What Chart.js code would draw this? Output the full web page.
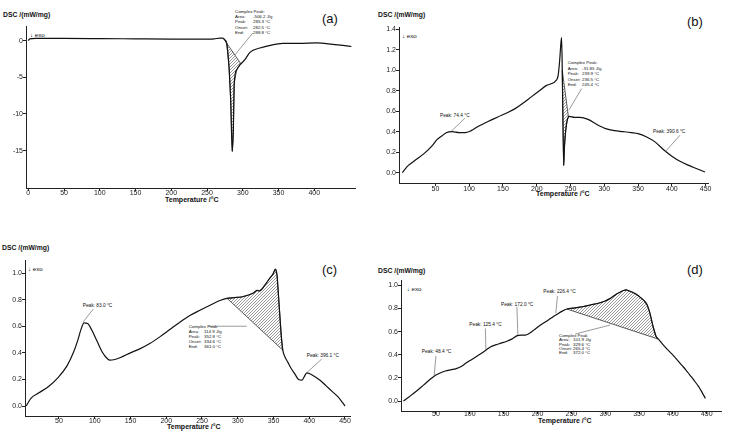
<!DOCTYPE html>
<html><head><meta charset="utf-8">
<script src="https://cdn.jsdelivr.net/npm/chart.js@4.4.1/dist/chart.umd.min.js"></script>
<style>
html,body{margin:0;padding:0;background:#fff}
body{width:730px;height:432px;position:relative;overflow:hidden;font-family:"Liberation Sans",Arial,sans-serif;color:#000}
canvas{position:absolute}
.t{position:absolute;white-space:pre;line-height:1;color:#111}
</style></head><body>
<script>
// ---------- DATA ----------
const xTicksA = [0,50,100,150,200,250,300,350,400];
const yTicksA = [0,-5,-10,-15];
const tempA = [0,2,10,50,100,150,200,240,260,268,272,275,277.6,280.7,283.1,285.3,286.7,288.1,291.4,296,303,310,324,340,356,380,403,426,440,452];
const dscA  = [0,0.25,0.3,0.3,0.28,0.25,0.22,0.2,0.25,0.35,0.35,0.1,-0.4,-3.5,-8.1,-15.1,-12.6,-5.8,-4.0,-3.3,-2.6,-1.6,-1.0,-0.6,-0.38,-0.36,-0.3,-0.5,-0.65,-0.8];

const xTicksB = [50,100,150,200,250,300,350,400,450];
const yTicksB = [0,0.2,0.4,0.6,0.8,1.0,1.2,1.4];
const tempB = [1,10,20,34,45,52,60,66,75,85,94,103,113,128,143,158,168,180,192,204,214,222,227,231.7,234,235.6,236.8,237.8,238.6,239.9,241,243,245.4,248,256,264,276,289,302,315,328,340,350,362,375,390,400,412,425,438,449];
const dscB  = [0,0.07,0.12,0.19,0.26,0.32,0.36,0.39,0.40,0.39,0.39,0.41,0.45,0.50,0.545,0.59,0.625,0.68,0.74,0.80,0.85,0.87,0.89,0.95,1.1,1.25,1.32,1.0,0.6,0.07,0.25,0.42,0.52,0.55,0.54,0.54,0.52,0.47,0.43,0.41,0.40,0.39,0.38,0.35,0.30,0.21,0.16,0.11,0.07,0.035,0.005];

const xTicksC = [50,100,150,200,250,300,350,400,450];
const yTicksC = [0,0.2,0.4,0.6,0.8,1.0];
const tempC = [4,11,22,35,48,61,70,76,81,85,90,96,103,110,116,121,128,136,150,163,177,191,205,219,233,247,262,276,285,295,305,315,322,327,330,334,338,342,346,349,352.8,355,358,361,363,366,370,375,380,385,390,393,396.5,400,408,416,424,432,440,446,450];
const dscC  = [0,0.06,0.10,0.145,0.21,0.30,0.40,0.49,0.58,0.625,0.62,0.57,0.49,0.41,0.365,0.345,0.35,0.365,0.40,0.43,0.47,0.52,0.575,0.63,0.68,0.72,0.76,0.795,0.81,0.815,0.82,0.835,0.85,0.87,0.865,0.88,0.91,0.94,0.97,0.99,1.03,0.98,0.75,0.52,0.42,0.37,0.33,0.28,0.24,0.20,0.195,0.22,0.25,0.245,0.22,0.19,0.15,0.11,0.07,0.03,0];

const xTicksD = [50,100,150,200,250,300,350,400,450];
const yTicksD = [0,0.2,0.4,0.6,0.8,1.0];
const tempD = [2,10,20,32,44,50,57,64,72,80,88,95,103,111,119,125,131,138,146,154,162,170,176,182,188,195,203,212,221,229,236,243.5,255,266,278,290,300,307,313,320,327,331,336,342,350,357,362,366,370,375,378.5,385,392,398,405,413,419,425,431,438,443,448];
const dscD  = [0,0.035,0.08,0.14,0.20,0.225,0.245,0.26,0.27,0.28,0.30,0.33,0.36,0.39,0.42,0.445,0.47,0.485,0.50,0.515,0.535,0.565,0.57,0.57,0.585,0.615,0.65,0.685,0.72,0.75,0.775,0.795,0.805,0.815,0.83,0.845,0.865,0.885,0.91,0.935,0.955,0.96,0.95,0.935,0.905,0.87,0.83,0.76,0.66,0.56,0.535,0.49,0.445,0.41,0.365,0.31,0.27,0.225,0.18,0.124,0.075,0.023];

// hatched peak areas: [startTemp, startValue, endTemp, endValue]
const peakA = [273,0.3,297,-3.1];
const peakB = [237.8,1.0,247,0.54];
const peakC = [285,0.81,363,0.42];
const peakD = [243.5,0.795,378.5,0.535];

// ---------- LAYOUT ----------
const panels = [
 {area:[26,26,355,188], xr:[-3.2,457], yr:[-20.1,2], xt:xTicksA, yt:yTicksA, dec:0, t:tempA, v:dscA, pk:peakA, xlPad:-2,
  leaders:[[314,1.05,289,-1.95]]},
 {area:[399.3,26.7,708,182.7], xr:[-3.85,453.5], yr:[-0.102,1.423], xt:xTicksB, yt:yTicksB, dec:1, t:tempB, v:dscB, pk:peakB, xlPad:-1,
  leaders:[[93.5,0.53,73,0.40],[266.4,0.82,247.6,0.61],[412,0.365,389.8,0.20]]},
 {area:[25,260,350,416], xr:[2.45,457], yr:[-0.075,1.098], xt:xTicksC, yt:yTicksC, dec:1, t:tempC, v:dscC, pk:peakC, xlPad:-2,
  leaders:[[98,0.73,84,0.634],[258.8,0.60,312.5,0.60],[417.4,0.353,396.4,0.25]]},
 {area:[400.7,280,721,411], xr:[-1.6,471], yr:[-0.086,1.046], xt:xTicksD, yt:yTicksD, dec:1, t:tempD, v:dscD, pk:peakD, xlPad:-4,
  leaders:[[50,0.39,47.4,0.22],[123,0.628,123.8,0.441],[169.6,0.815,171,0.571],[229.5,0.907,227,0.758],[255.6,0.579,307.3,0.657]]}
];

const texts = [
 // [x, yCenter, text, size, weight]
 [3,16,'DSC /(mW/mg)',6.8,'bold'],[322,19,'(a)',13,'normal'],[30,35,'↓ exo',6.2,'normal'],[165,200,'Temperature /°C',7,'bold'],
 [378,15.7,'DSC /(mW/mg)',6.8,'bold'],[687,22,'(b)',13,'normal'],[402,36.7,'↓ exo',6.2,'normal'],[536,194.3,'Temperature /°C',7,'bold'],
 [2,248.3,'DSC /(mW/mg)',6.8,'bold'],[322,270,'(c)',13,'normal'],[28,269,'↓ exo',6.2,'normal'],[167,427.3,'Temperature /°C',7,'bold'],
 [378,271.7,'DSC /(mW/mg)',6.8,'bold'],[687,270,'(d)',13,'normal'],[406.7,289.3,'↓ exo',6.2,'normal'],[538,420.7,'Temperature /°C',7,'bold'],
 [440,116.7,'Peak: 74.4 °C',4.8,'normal'],[653,132.7,'Peak: 390.6 °C',4.8,'normal'],
 [82.7,306.7,'Peak: 83.0 °C',4.8,'normal'],[306.7,357,'Peak: 396.1 °C',4.8,'normal'],
 [421.7,352.7,'Peak: 48.4 °C',4.8,'normal'],[469.3,325.7,'Peak: 125.4 °C',4.8,'normal'],[501,305.3,'Peak: 172.0 °C',4.8,'normal'],[543.3,292.7,'Peak: 226.4 °C',4.8,'normal']
];
const complexBlocks = [
 {x:235, x2:253, ys:[12.7,17.5,22.7,28,33.3], head:'Complex Peak:', vals:['-506.2 J/g','285.3 °C','282.5 °C','288.8 °C']},
 {x:567.7, x2:582, ys:[63.3,69,74.3,80,85], head:'Complex Peak:', vals:['-31.85 J/g','239.9 °C','236.5 °C','245.4 °C']},
 {x:188.7, x2:204, ys:[327.3,332.7,337.7,342.7,347.7], head:'Complex Peak', vals:['114.9 J/g','352.8 °C','334.6 °C','361.0 °C']},
 {x:559, x2:573, ys:[336,340.7,345,349.3,353.6], head:'Complex Peak', vals:['101.9 J/g','329.6 °C','265.4 °C','372.0 °C']}
];

function addText(x,y,s,size,weight){
  const d=document.createElement('div');d.className='t';d.textContent=s;
  d.style.left=x+'px';d.style.top=(y-size*0.55)+'px';d.style.fontSize=size+'px';d.style.fontWeight=weight;
  document.body.appendChild(d);
}
texts.forEach(a=>addText(...a));
complexBlocks.forEach(b=>{
  const labs=[b.head,'Area:','Peak:','Onset:','End:'];
  labs.forEach((l,i)=>addText(b.x,b.ys[i],l,4.4,'normal'));
  b.vals.forEach((v,i)=>addText(b.x2,b.ys[i+1],v,4.4,'normal'));
});

function makePattern(ctx){
  const c=document.createElement('canvas');c.width=3;c.height=3;
  const g=c.getContext('2d');g.strokeStyle='#444';g.lineWidth=0.55;
  g.beginPath();g.moveTo(0,3);g.lineTo(3,0);g.moveTo(-1,1);g.lineTo(1,-1);g.moveTo(2,4);g.lineTo(4,2);g.stroke();
  return ctx.createPattern(c,'repeat');
}

const deco = {
  id:'deco',
  beforeDatasetsDraw(chart,args,o){
    const xs=chart.scales.x, ys=chart.scales.y, ctx=chart.ctx;
    const [t1,v1,t2,v2]=o.pk;
    const pts=[[t1,v1]];
    o.t.forEach((t,i)=>{ if(t>t1&&t<t2) pts.push([t,o.v[i]]); });
    pts.push([t2,v2]);
    ctx.save();
    ctx.beginPath();
    pts.forEach((p,i)=>{const X=xs.getPixelForValue(p[0]),Y=ys.getPixelForValue(p[1]); i?ctx.lineTo(X,Y):ctx.moveTo(X,Y);});
    ctx.closePath();
    ctx.fillStyle=makePattern(ctx);ctx.fill();
    ctx.strokeStyle='#333';ctx.lineWidth=0.8;ctx.stroke();
    ctx.restore();
  },
  afterDatasetsDraw(chart,args,o){
    const xs=chart.scales.x, ys=chart.scales.y, ctx=chart.ctx;
    ctx.save();ctx.strokeStyle='#555';ctx.lineWidth=0.6;
    o.leaders.forEach(l=>{ctx.beginPath();ctx.moveTo(xs.getPixelForValue(l[0]),ys.getPixelForValue(l[1]));ctx.lineTo(xs.getPixelForValue(l[2]),ys.getPixelForValue(l[3]));ctx.stroke();});
    ctx.restore();
  }
};

panels.forEach(p=>{
  const [L,T,R,B]=p.area;
  const padL=10,yW=30,padT=12,padR=24,xH=24;
  const cv=document.createElement('canvas');
  const W=Math.round(R-L+padL+yW+padR), H=Math.round(B-T+padT+xH);
  cv.width=W;cv.height=H;cv.style.width=W+'px';cv.style.height=H+'px';
  cv.style.left=(L-padL-yW)+'px';cv.style.top=(T-padT)+'px';
  document.body.appendChild(cv);
  const tickFont={family:'"Liberation Sans", Arial, sans-serif',size:7};
  new Chart(cv,{
    type:'line',
    data:{datasets:[{data:p.t.map((t,i)=>({x:t,y:p.v[i]})),borderColor:'#111',borderWidth:1.2,pointRadius:0,cubicInterpolationMode:'monotone',fill:false}]},
    plugins:[deco],
    options:{
      responsive:false,animation:false,
      layout:{padding:{left:padL,top:padT,right:padR,bottom:0}},
      plugins:{legend:{display:false},tooltip:{enabled:false},deco:{pk:p.pk,t:p.t,v:p.v,leaders:p.leaders}},
      scales:{
        x:{type:'linear',min:p.xr[0],max:p.xr[1],
          afterFit:s=>{s.height=xH;},
          afterBuildTicks:s=>{s.ticks=p.xt.map(v=>({value:v}));},
          grid:{drawOnChartArea:false,color:'#222',tickLength:3},
          border:{display:true,color:'#222',width:1},
          ticks:{autoSkip:false,maxRotation:0,padding:p.xlPad,color:'#222',font:tickFont,callback:v=>String(v)}},
        y:{type:'linear',min:p.yr[0],max:p.yr[1],
          afterFit:s=>{s.width=yW;},
          afterBuildTicks:s=>{s.ticks=p.yt.map(v=>({value:v}));},
          grid:{drawOnChartArea:false,color:'#222',tickLength:3},
          border:{display:true,color:'#222',width:1},
          ticks:{padding:0,color:'#222',font:tickFont,callback:v=>v.toFixed(p.dec)}}
      }
    }
  });
});
</script>
</body></html>
